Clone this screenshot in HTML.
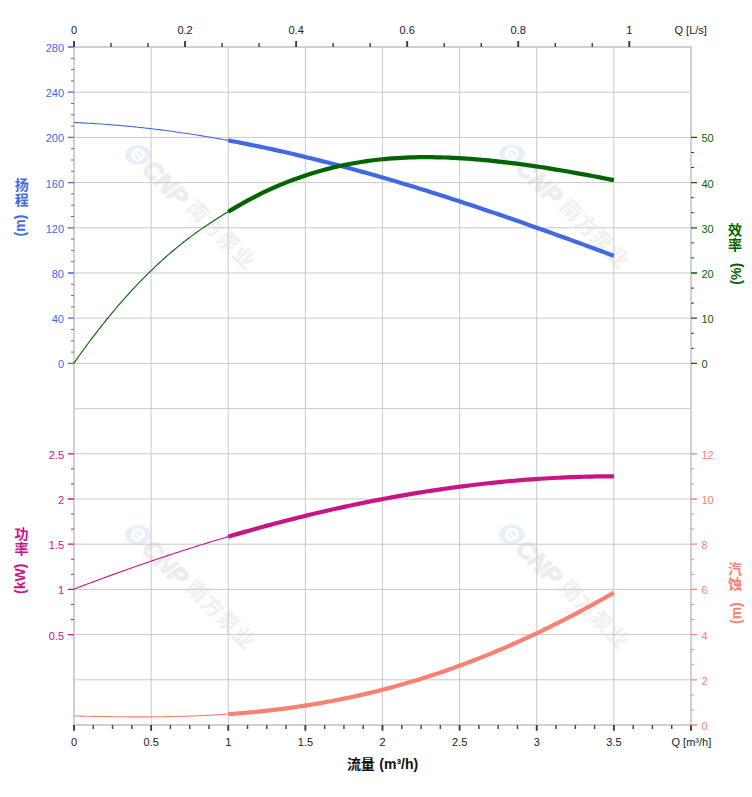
<!DOCTYPE html>
<html><head><meta charset="utf-8"><title>chart</title>
<style>html,body{margin:0;padding:0;background:#fff}body{width:752px;height:797px;overflow:hidden}</style></head>
<body>
<svg width="752" height="797" viewBox="0 0 752 797" style="display:block">
<rect width="752" height="797" fill="#fff"/>
<defs>
<g id="wmk"><ellipse cx="0" cy="0" rx="12.8" ry="9.8" fill="#e7eff8"/><g transform="rotate(45)" fill="none" stroke="#fff" stroke-width="2.9" stroke-linecap="round"><path d="M 4.6 -2.8 A 5.4 5.4 0 1 0 4.0 3.8"/><path d="M -1.5 0.3 H 4.8"/></g><g transform="rotate(45)"><text x="12.5" y="9" style="font-family:'Liberation Sans',sans-serif;font-weight:bold;font-style:italic;font-size:25px" fill="#ededed" stroke="#ededed" stroke-width="1.3" stroke-linejoin="round">CNP</text><text x="71.00 92.90 114.80 136.70" y="5.46" fill="#f0f0f0" style="font-family:'Liberation Sans','Noto Sans CJK SC',sans-serif;font-weight:bold;font-size:21.2px">南方泵业</text></g></g>
</defs>
<use href="#wmk" x="138.3" y="155.0"/>
<use href="#wmk" x="512.0" y="154.0"/>
<use href="#wmk" x="138.0" y="535.0"/>
<use href="#wmk" x="511.8" y="534.5"/>
<path d="M151.12 47.0V725.0M228.25 47.0V725.0M305.38 47.0V725.0M382.50 47.0V725.0M459.62 47.0V725.0M536.75 47.0V725.0M613.88 47.0V725.0M74.0 92.20H691.0M74.0 137.40H691.0M74.0 182.60H691.0M74.0 227.80H691.0M74.0 273.00H691.0M74.0 318.20H691.0M74.0 363.40H691.0M74.0 408.60H691.0M74.0 453.80H691.0M74.0 499.00H691.0M74.0 544.20H691.0M74.0 589.40H691.0M74.0 634.60H691.0M74.0 679.80H691.0" stroke="#c9c9c9" stroke-width="1" fill="none"/>
<rect x="74.0" y="47.0" width="617.0" height="678.0" fill="none" stroke="#d0d0d0" stroke-width="2"/>
<path d="M74.00 41V47.0M185.06 41V47.0M296.12 41V47.0M407.18 41V47.0M518.24 41V47.0M629.30 41V47.0" stroke="#3c3c3c" stroke-width="1.9" fill="none"/>
<path d="M111.02 43V47.0M148.04 43V47.0M222.08 43V47.0M259.10 43V47.0M333.14 43V47.0M370.16 43V47.0M444.20 43V47.0M481.22 43V47.0M555.26 43V47.0M592.28 43V47.0" stroke="#4a4a4a" stroke-width="1.5" fill="none"/>
<path d="M74.00 725.0V730.7M151.12 725.0V730.7M228.25 725.0V730.7M305.38 725.0V730.7M382.50 725.0V730.7M459.62 725.0V730.7M536.75 725.0V730.7M613.88 725.0V730.7M691.00 725.0V730.7" stroke="#3c3c3c" stroke-width="1.9" fill="none"/>
<path d="M93.28 725.0V728.9M112.56 725.0V728.9M131.84 725.0V728.9M170.41 725.0V728.9M189.69 725.0V728.9M208.97 725.0V728.9M247.53 725.0V728.9M266.81 725.0V728.9M286.09 725.0V728.9M324.66 725.0V728.9M343.94 725.0V728.9M363.22 725.0V728.9M401.78 725.0V728.9M421.06 725.0V728.9M440.34 725.0V728.9M478.91 725.0V728.9M498.19 725.0V728.9M517.47 725.0V728.9M556.03 725.0V728.9M575.31 725.0V728.9M594.59 725.0V728.9M633.16 725.0V728.9M652.44 725.0V728.9M671.72 725.0V728.9" stroke="#4a4a4a" stroke-width="1.5" fill="none"/>
<path d="M68 47.00H74.0M68 92.20H74.0M68 137.40H74.0M68 182.60H74.0M68 227.80H74.0M68 273.00H74.0M68 318.20H74.0M68 363.40H74.0" stroke="#4169e1" stroke-width="1.3" fill="none"/>
<path d="M71 58.30H74.0M71 69.60H74.0M71 80.90H74.0M71 103.50H74.0M71 114.80H74.0M71 126.10H74.0M71 148.70H74.0M71 160.00H74.0M71 171.30H74.0M71 193.90H74.0M71 205.20H74.0M71 216.50H74.0M71 239.10H74.0M71 250.40H74.0M71 261.70H74.0M71 284.30H74.0M71 295.60H74.0M71 306.90H74.0M71 329.50H74.0M71 340.80H74.0M71 352.10H74.0" stroke="#4169e1" stroke-width="1.0" fill="none"/>
<path d="M691.0 363.40H697M691.0 318.20H697M691.0 273.00H697M691.0 227.80H697M691.0 182.60H697M691.0 137.40H697" stroke="#006400" stroke-width="1.3" fill="none"/>
<path d="M691.0 348.33H694M691.0 333.27H694M691.0 303.13H694M691.0 288.07H694M691.0 257.93H694M691.0 242.87H694M691.0 212.73H694M691.0 197.67H694M691.0 167.53H694M691.0 152.47H694" stroke="#006400" stroke-width="1.0" fill="none"/>
<path d="M68 453.80H74.0M68 499.00H74.0M68 544.20H74.0M68 589.40H74.0M68 634.60H74.0" stroke="#c71585" stroke-width="1.3" fill="none"/>
<path d="M71 468.87H74.0M71 483.93H74.0M71 514.07H74.0M71 529.13H74.0M71 559.27H74.0M71 574.33H74.0M71 604.47H74.0M71 619.53H74.0" stroke="#c71585" stroke-width="1.0" fill="none"/>
<path d="M691.0 453.80H697M691.0 499.00H697M691.0 544.20H697M691.0 589.40H697M691.0 634.60H697M691.0 679.80H697M691.0 725.00H697" stroke="#fa8072" stroke-width="1.3" fill="none"/>
<path d="M691.0 468.87H694M691.0 483.93H694M691.0 514.07H694M691.0 529.13H694M691.0 559.27H694M691.0 574.33H694M691.0 604.47H694M691.0 619.53H694M691.0 649.67H694M691.0 664.73H694M691.0 694.87H694M691.0 709.93H694" stroke="#fa8072" stroke-width="1.0" fill="none"/>
<text x="74.00" y="34.30" fill="#1a1a1a" text-anchor="middle" style="font-family:'Liberation Sans',sans-serif;font-size:11px;font-weight:normal" >0</text>
<text x="185.06" y="34.30" fill="#1a1a1a" text-anchor="middle" style="font-family:'Liberation Sans',sans-serif;font-size:11px;font-weight:normal" >0.2</text>
<text x="296.12" y="34.30" fill="#1a1a1a" text-anchor="middle" style="font-family:'Liberation Sans',sans-serif;font-size:11px;font-weight:normal" >0.4</text>
<text x="407.18" y="34.30" fill="#1a1a1a" text-anchor="middle" style="font-family:'Liberation Sans',sans-serif;font-size:11px;font-weight:normal" >0.6</text>
<text x="518.24" y="34.30" fill="#1a1a1a" text-anchor="middle" style="font-family:'Liberation Sans',sans-serif;font-size:11px;font-weight:normal" >0.8</text>
<text x="629.30" y="34.30" fill="#1a1a1a" text-anchor="middle" style="font-family:'Liberation Sans',sans-serif;font-size:11px;font-weight:normal" >1</text>
<text x="674.50" y="34.30" fill="#1a1a1a" text-anchor="start" style="font-family:'Liberation Sans',sans-serif;font-size:11px;font-weight:normal" >Q [L/s]</text>
<text x="74.00" y="746.00" fill="#1a1a1a" text-anchor="middle" style="font-family:'Liberation Sans',sans-serif;font-size:11px;font-weight:normal" >0</text>
<text x="151.12" y="746.00" fill="#1a1a1a" text-anchor="middle" style="font-family:'Liberation Sans',sans-serif;font-size:11px;font-weight:normal" >0.5</text>
<text x="228.25" y="746.00" fill="#1a1a1a" text-anchor="middle" style="font-family:'Liberation Sans',sans-serif;font-size:11px;font-weight:normal" >1</text>
<text x="305.38" y="746.00" fill="#1a1a1a" text-anchor="middle" style="font-family:'Liberation Sans',sans-serif;font-size:11px;font-weight:normal" >1.5</text>
<text x="382.50" y="746.00" fill="#1a1a1a" text-anchor="middle" style="font-family:'Liberation Sans',sans-serif;font-size:11px;font-weight:normal" >2</text>
<text x="459.62" y="746.00" fill="#1a1a1a" text-anchor="middle" style="font-family:'Liberation Sans',sans-serif;font-size:11px;font-weight:normal" >2.5</text>
<text x="536.75" y="746.00" fill="#1a1a1a" text-anchor="middle" style="font-family:'Liberation Sans',sans-serif;font-size:11px;font-weight:normal" >3</text>
<text x="613.88" y="746.00" fill="#1a1a1a" text-anchor="middle" style="font-family:'Liberation Sans',sans-serif;font-size:11px;font-weight:normal" >3.5</text>
<text x="671.50" y="746.00" fill="#1a1a1a" text-anchor="start" style="font-family:'Liberation Sans',sans-serif;font-size:11px;font-weight:normal" >Q [m³/h]</text>
<text x="64.00" y="51.90" fill="#4169e1" text-anchor="end" style="font-family:'Liberation Sans',sans-serif;font-size:11px;font-weight:normal" >280</text>
<text x="64.00" y="97.10" fill="#4169e1" text-anchor="end" style="font-family:'Liberation Sans',sans-serif;font-size:11px;font-weight:normal" >240</text>
<text x="64.00" y="142.30" fill="#4169e1" text-anchor="end" style="font-family:'Liberation Sans',sans-serif;font-size:11px;font-weight:normal" >200</text>
<text x="64.00" y="187.50" fill="#4169e1" text-anchor="end" style="font-family:'Liberation Sans',sans-serif;font-size:11px;font-weight:normal" >160</text>
<text x="64.00" y="232.70" fill="#4169e1" text-anchor="end" style="font-family:'Liberation Sans',sans-serif;font-size:11px;font-weight:normal" >120</text>
<text x="64.00" y="277.90" fill="#4169e1" text-anchor="end" style="font-family:'Liberation Sans',sans-serif;font-size:11px;font-weight:normal" >80</text>
<text x="64.00" y="323.10" fill="#4169e1" text-anchor="end" style="font-family:'Liberation Sans',sans-serif;font-size:11px;font-weight:normal" >40</text>
<text x="64.00" y="368.30" fill="#4169e1" text-anchor="end" style="font-family:'Liberation Sans',sans-serif;font-size:11px;font-weight:normal" >0</text>
<text x="701.50" y="142.30" fill="#006400" text-anchor="start" style="font-family:'Liberation Sans',sans-serif;font-size:11px;font-weight:normal" >50</text>
<text x="701.50" y="187.50" fill="#006400" text-anchor="start" style="font-family:'Liberation Sans',sans-serif;font-size:11px;font-weight:normal" >40</text>
<text x="701.50" y="232.70" fill="#006400" text-anchor="start" style="font-family:'Liberation Sans',sans-serif;font-size:11px;font-weight:normal" >30</text>
<text x="701.50" y="277.90" fill="#006400" text-anchor="start" style="font-family:'Liberation Sans',sans-serif;font-size:11px;font-weight:normal" >20</text>
<text x="701.50" y="323.10" fill="#006400" text-anchor="start" style="font-family:'Liberation Sans',sans-serif;font-size:11px;font-weight:normal" >10</text>
<text x="701.50" y="368.30" fill="#006400" text-anchor="start" style="font-family:'Liberation Sans',sans-serif;font-size:11px;font-weight:normal" >0</text>
<text x="64.00" y="458.70" fill="#c71585" text-anchor="end" style="font-family:'Liberation Sans',sans-serif;font-size:11px;font-weight:normal" >2.5</text>
<text x="64.00" y="503.90" fill="#c71585" text-anchor="end" style="font-family:'Liberation Sans',sans-serif;font-size:11px;font-weight:normal" >2</text>
<text x="64.00" y="549.10" fill="#c71585" text-anchor="end" style="font-family:'Liberation Sans',sans-serif;font-size:11px;font-weight:normal" >1.5</text>
<text x="64.00" y="594.30" fill="#c71585" text-anchor="end" style="font-family:'Liberation Sans',sans-serif;font-size:11px;font-weight:normal" >1</text>
<text x="64.00" y="639.50" fill="#c71585" text-anchor="end" style="font-family:'Liberation Sans',sans-serif;font-size:11px;font-weight:normal" >0.5</text>
<text x="701.50" y="458.70" fill="#fa8072" text-anchor="start" style="font-family:'Liberation Sans',sans-serif;font-size:11px;font-weight:normal" >12</text>
<text x="701.50" y="503.90" fill="#fa8072" text-anchor="start" style="font-family:'Liberation Sans',sans-serif;font-size:11px;font-weight:normal" >10</text>
<text x="701.50" y="549.10" fill="#fa8072" text-anchor="start" style="font-family:'Liberation Sans',sans-serif;font-size:11px;font-weight:normal" >8</text>
<text x="701.50" y="594.30" fill="#fa8072" text-anchor="start" style="font-family:'Liberation Sans',sans-serif;font-size:11px;font-weight:normal" >6</text>
<text x="701.50" y="639.50" fill="#fa8072" text-anchor="start" style="font-family:'Liberation Sans',sans-serif;font-size:11px;font-weight:normal" >4</text>
<text x="701.50" y="684.70" fill="#fa8072" text-anchor="start" style="font-family:'Liberation Sans',sans-serif;font-size:11px;font-weight:normal" >2</text>
<text x="701.50" y="729.90" fill="#fa8072" text-anchor="start" style="font-family:'Liberation Sans',sans-serif;font-size:11px;font-weight:normal" >0</text>
<text x="14.65" y="189.88" fill="#4169e1" text-anchor="start" style="font-family:'Liberation Sans','Noto Sans CJK SC',sans-serif;font-size:14px;font-weight:bold">扬</text>
<text x="14.65" y="205.08" fill="#4169e1" text-anchor="start" style="font-family:'Liberation Sans','Noto Sans CJK SC',sans-serif;font-size:14px;font-weight:bold">程</text>
<text transform="translate(25.20,225.50) rotate(-90)" text-anchor="middle" fill="#4169e1" style="font-family:'Liberation Sans',sans-serif;font-size:14px;font-weight:bold">(m)</text>
<text x="14.45" y="539.48" fill="#c71585" text-anchor="start" style="font-family:'Liberation Sans','Noto Sans CJK SC',sans-serif;font-size:14px;font-weight:bold">功</text>
<text x="14.45" y="554.38" fill="#c71585" text-anchor="start" style="font-family:'Liberation Sans','Noto Sans CJK SC',sans-serif;font-size:14px;font-weight:bold">率</text>
<text transform="translate(24.50,578.80) rotate(-90)" text-anchor="middle" fill="#c71585" style="font-family:'Liberation Sans',sans-serif;font-size:14px;font-weight:bold">(kW)</text>
<text x="727.90" y="234.98" fill="#006400" text-anchor="start" style="font-family:'Liberation Sans','Noto Sans CJK SC',sans-serif;font-size:14px;font-weight:bold">效</text>
<text x="727.90" y="250.28" fill="#006400" text-anchor="start" style="font-family:'Liberation Sans','Noto Sans CJK SC',sans-serif;font-size:14px;font-weight:bold">率</text>
<text transform="translate(740.80,273.80) rotate(-90)" text-anchor="middle" fill="#006400" style="font-family:'Liberation Sans',sans-serif;font-size:14px;font-weight:bold">(%)</text>
<text x="727.90" y="574.08" fill="#fa8072" text-anchor="start" style="font-family:'Liberation Sans','Noto Sans CJK SC',sans-serif;font-size:14px;font-weight:bold">汽</text>
<text x="727.90" y="589.18" fill="#fa8072" text-anchor="start" style="font-family:'Liberation Sans','Noto Sans CJK SC',sans-serif;font-size:14px;font-weight:bold">蚀</text>
<text transform="translate(740.80,613.10) rotate(-90)" text-anchor="middle" fill="#fa8072" style="font-family:'Liberation Sans',sans-serif;font-size:14px;font-weight:bold">(m)</text>
<text x="347.05 360.85" y="768.73" fill="#111" text-anchor="start" style="font-family:'Liberation Sans','Noto Sans CJK SC',sans-serif;font-size:14px;font-weight:bold">流量</text>
<text x="379.30" y="769.00" fill="#111" text-anchor="start" style="font-family:'Liberation Sans',sans-serif;font-size:14px;font-weight:bold" >(m³/h)</text>
<path d="M74.00 715.94 L75.73 715.98 L77.47 716.02 L79.20 716.06 L80.93 716.10 L82.67 716.14 L84.40 716.18 L86.13 716.21 L87.87 716.25 L89.60 716.29 L91.33 716.32 L93.06 716.36 L94.80 716.39 L96.53 716.42 L98.26 716.45 L100.00 716.49 L101.73 716.52 L103.46 716.54 L105.20 716.57 L106.93 716.60 L108.66 716.63 L110.40 716.65 L112.13 716.67 L113.86 716.70 L115.60 716.72 L117.33 716.74 L119.06 716.76 L120.79 716.77 L122.53 716.79 L124.26 716.81 L125.99 716.82 L127.73 716.83 L129.46 716.84 L131.19 716.85 L132.93 716.86 L134.66 716.86 L136.39 716.87 L138.13 716.87 L139.86 716.87 L141.59 716.87 L143.33 716.87 L145.06 716.86 L146.79 716.86 L148.53 716.85 L150.26 716.84 L151.99 716.83 L153.72 716.82 L155.46 716.80 L157.19 716.79 L158.92 716.77 L160.66 716.75 L162.39 716.72 L164.12 716.70 L165.86 716.67 L167.59 716.64 L169.32 716.61 L171.06 716.58 L172.79 716.54 L174.52 716.50 L176.26 716.46 L177.99 716.42 L179.72 716.38 L181.46 716.33 L183.19 716.28 L184.92 716.23 L186.65 716.18 L188.39 716.12 L190.12 716.06 L191.85 716.00 L193.59 715.94 L195.32 715.87 L197.05 715.80 L198.79 715.73 L200.52 715.66 L202.25 715.58 L203.99 715.50 L205.72 715.42 L207.45 715.34 L209.19 715.25 L210.92 715.16 L212.65 715.07 L214.38 714.97 L216.12 714.87 L217.85 714.77 L219.58 714.67 L221.32 714.56 L223.05 714.45 L224.78 714.34 L226.52 714.23 L228.25 714.11" stroke="#fa8072" stroke-width="1.1" fill="none" stroke-linejoin="round"/>
<path d="M228.25 714.11 L232.58 713.80 L236.92 713.47 L241.25 713.13 L245.58 712.76 L249.91 712.38 L254.25 711.97 L258.58 711.55 L262.91 711.10 L267.25 710.63 L271.58 710.14 L275.91 709.63 L280.24 709.10 L284.58 708.55 L288.91 707.98 L293.24 707.38 L297.58 706.76 L301.91 706.11 L306.24 705.45 L310.57 704.76 L314.91 704.04 L319.24 703.31 L323.57 702.55 L327.91 701.76 L332.24 700.95 L336.57 700.12 L340.90 699.26 L345.24 698.38 L349.57 697.47 L353.90 696.54 L358.24 695.58 L362.57 694.59 L366.90 693.58 L371.23 692.55 L375.57 691.49 L379.90 690.40 L384.23 689.29 L388.57 688.15 L392.90 686.98 L397.23 685.79 L401.56 684.57 L405.90 683.33 L410.23 682.06 L414.56 680.76 L418.90 679.44 L423.23 678.09 L427.56 676.71 L431.89 675.30 L436.23 673.87 L440.56 672.42 L444.89 670.93 L449.23 669.42 L453.56 667.88 L457.89 666.32 L462.22 664.72 L466.56 663.10 L470.89 661.46 L475.22 659.79 L479.56 658.09 L483.89 656.36 L488.22 654.61 L492.55 652.83 L496.89 651.02 L501.22 649.19 L505.55 647.33 L509.89 645.45 L514.22 643.54 L518.55 641.60 L522.88 639.64 L527.22 637.65 L531.55 635.63 L535.88 633.59 L540.22 631.53 L544.55 629.44 L548.88 627.32 L553.21 625.18 L557.55 623.01 L561.88 620.82 L566.21 618.60 L570.55 616.36 L574.88 614.09 L579.21 611.80 L583.54 609.49 L587.88 607.15 L592.21 604.79 L596.54 602.41 L600.88 600.00 L605.21 597.57 L609.54 595.12 L613.88 592.64" stroke="#fa8072" stroke-width="4.2" fill="none" stroke-linejoin="round"/>
<path d="M74.00 589.07 L75.73 588.41 L77.47 587.75 L79.20 587.09 L80.93 586.43 L82.67 585.78 L84.40 585.12 L86.13 584.47 L87.87 583.82 L89.60 583.17 L91.33 582.52 L93.06 581.87 L94.80 581.23 L96.53 580.59 L98.26 579.94 L100.00 579.30 L101.73 578.67 L103.46 578.03 L105.20 577.39 L106.93 576.76 L108.66 576.13 L110.40 575.50 L112.13 574.87 L113.86 574.24 L115.60 573.62 L117.33 572.99 L119.06 572.37 L120.79 571.75 L122.53 571.13 L124.26 570.51 L125.99 569.90 L127.73 569.28 L129.46 568.67 L131.19 568.06 L132.93 567.45 L134.66 566.84 L136.39 566.24 L138.13 565.63 L139.86 565.03 L141.59 564.43 L143.33 563.83 L145.06 563.23 L146.79 562.64 L148.53 562.04 L150.26 561.45 L151.99 560.86 L153.72 560.27 L155.46 559.69 L157.19 559.10 L158.92 558.52 L160.66 557.94 L162.39 557.36 L164.12 556.78 L165.86 556.20 L167.59 555.63 L169.32 555.05 L171.06 554.48 L172.79 553.91 L174.52 553.34 L176.26 552.78 L177.99 552.21 L179.72 551.65 L181.46 551.09 L183.19 550.53 L184.92 549.97 L186.65 549.42 L188.39 548.87 L190.12 548.31 L191.85 547.76 L193.59 547.22 L195.32 546.67 L197.05 546.12 L198.79 545.58 L200.52 545.04 L202.25 544.50 L203.99 543.96 L205.72 543.43 L207.45 542.89 L209.19 542.36 L210.92 541.83 L212.65 541.30 L214.38 540.78 L216.12 540.25 L217.85 539.73 L219.58 539.21 L221.32 538.69 L223.05 538.17 L224.78 537.66 L226.52 537.15 L228.25 536.64" stroke="#c71585" stroke-width="1.1" fill="none" stroke-linejoin="round"/>
<path d="M228.25 536.64 L232.58 535.36 L236.92 534.11 L241.25 532.86 L245.58 531.63 L249.91 530.40 L254.25 529.19 L258.58 527.99 L262.91 526.81 L267.25 525.63 L271.58 524.47 L275.91 523.32 L280.24 522.18 L284.58 521.06 L288.91 519.95 L293.24 518.85 L297.58 517.76 L301.91 516.69 L306.24 515.62 L310.57 514.57 L314.91 513.54 L319.24 512.51 L323.57 511.50 L327.91 510.51 L332.24 509.52 L336.57 508.55 L340.90 507.59 L345.24 506.65 L349.57 505.72 L353.90 504.80 L358.24 503.89 L362.57 503.00 L366.90 502.13 L371.23 501.26 L375.57 500.41 L379.90 499.57 L384.23 498.75 L388.57 497.94 L392.90 497.15 L397.23 496.37 L401.56 495.60 L405.90 494.84 L410.23 494.11 L414.56 493.38 L418.90 492.67 L423.23 491.97 L427.56 491.29 L431.89 490.62 L436.23 489.97 L440.56 489.33 L444.89 488.71 L449.23 488.10 L453.56 487.50 L457.89 486.92 L462.22 486.36 L466.56 485.80 L470.89 485.27 L475.22 484.75 L479.56 484.24 L483.89 483.75 L488.22 483.28 L492.55 482.82 L496.89 482.37 L501.22 481.94 L505.55 481.53 L509.89 481.13 L514.22 480.74 L518.55 480.37 L522.88 480.02 L527.22 479.69 L531.55 479.36 L535.88 479.06 L540.22 478.77 L544.55 478.50 L548.88 478.24 L553.21 478.00 L557.55 477.77 L561.88 477.56 L566.21 477.37 L570.55 477.19 L574.88 477.03 L579.21 476.89 L583.54 476.76 L587.88 476.65 L592.21 476.55 L596.54 476.47 L600.88 476.41 L605.21 476.36 L609.54 476.34 L613.88 476.32" stroke="#c71585" stroke-width="4.2" fill="none" stroke-linejoin="round"/>
<path d="M74.00 122.53 L75.73 122.60 L77.47 122.67 L79.20 122.75 L80.93 122.83 L82.67 122.92 L84.40 123.01 L86.13 123.10 L87.87 123.19 L89.60 123.29 L91.33 123.39 L93.06 123.49 L94.80 123.60 L96.53 123.71 L98.26 123.82 L100.00 123.94 L101.73 124.06 L103.46 124.18 L105.20 124.30 L106.93 124.43 L108.66 124.56 L110.40 124.70 L112.13 124.83 L113.86 124.97 L115.60 125.12 L117.33 125.26 L119.06 125.41 L120.79 125.56 L122.53 125.72 L124.26 125.88 L125.99 126.04 L127.73 126.20 L129.46 126.37 L131.19 126.54 L132.93 126.71 L134.66 126.89 L136.39 127.06 L138.13 127.25 L139.86 127.43 L141.59 127.62 L143.33 127.81 L145.06 128.00 L146.79 128.19 L148.53 128.39 L150.26 128.59 L151.99 128.80 L153.72 129.01 L155.46 129.21 L157.19 129.43 L158.92 129.64 L160.66 129.86 L162.39 130.08 L164.12 130.30 L165.86 130.53 L167.59 130.76 L169.32 130.99 L171.06 131.23 L172.79 131.46 L174.52 131.70 L176.26 131.94 L177.99 132.19 L179.72 132.44 L181.46 132.69 L183.19 132.94 L184.92 133.20 L186.65 133.46 L188.39 133.72 L190.12 133.98 L191.85 134.25 L193.59 134.52 L195.32 134.79 L197.05 135.06 L198.79 135.34 L200.52 135.62 L202.25 135.90 L203.99 136.18 L205.72 136.47 L207.45 136.76 L209.19 137.05 L210.92 137.35 L212.65 137.64 L214.38 137.94 L216.12 138.24 L217.85 138.55 L219.58 138.86 L221.32 139.17 L223.05 139.48 L224.78 139.79 L226.52 140.11 L228.25 140.43" stroke="#4169e1" stroke-width="1.1" fill="none" stroke-linejoin="round"/>
<path d="M228.25 140.43 L232.58 141.24 L236.92 142.06 L241.25 142.90 L245.58 143.75 L249.91 144.62 L254.25 145.50 L258.58 146.40 L262.91 147.31 L267.25 148.23 L271.58 149.17 L275.91 150.13 L280.24 151.09 L284.58 152.07 L288.91 153.06 L293.24 154.07 L297.58 155.09 L301.91 156.12 L306.24 157.17 L310.57 158.23 L314.91 159.30 L319.24 160.38 L323.57 161.48 L327.91 162.58 L332.24 163.70 L336.57 164.84 L340.90 165.98 L345.24 167.13 L349.57 168.30 L353.90 169.48 L358.24 170.67 L362.57 171.87 L366.90 173.08 L371.23 174.30 L375.57 175.53 L379.90 176.78 L384.23 178.03 L388.57 179.30 L392.90 180.57 L397.23 181.85 L401.56 183.15 L405.90 184.45 L410.23 185.77 L414.56 187.09 L418.90 188.42 L423.23 189.76 L427.56 191.11 L431.89 192.47 L436.23 193.84 L440.56 195.22 L444.89 196.60 L449.23 198.00 L453.56 199.40 L457.89 200.81 L462.22 202.23 L466.56 203.65 L470.89 205.09 L475.22 206.53 L479.56 207.98 L483.89 209.43 L488.22 210.90 L492.55 212.37 L496.89 213.84 L501.22 215.33 L505.55 216.82 L509.89 218.32 L514.22 219.82 L518.55 221.33 L522.88 222.85 L527.22 224.37 L531.55 225.90 L535.88 227.43 L540.22 228.97 L544.55 230.51 L548.88 232.06 L553.21 233.62 L557.55 235.18 L561.88 236.74 L566.21 238.31 L570.55 239.88 L574.88 241.46 L579.21 243.05 L583.54 244.63 L587.88 246.22 L592.21 247.82 L596.54 249.42 L600.88 251.02 L605.21 252.63 L609.54 254.24 L613.88 255.85" stroke="#4169e1" stroke-width="4.2" fill="none" stroke-linejoin="round"/>
<path d="M74.00 363.08 L75.73 360.60 L77.47 358.15 L79.20 355.71 L80.93 353.28 L82.67 350.88 L84.40 348.50 L86.13 346.13 L87.87 343.79 L89.60 341.46 L91.33 339.15 L93.06 336.86 L94.80 334.59 L96.53 332.33 L98.26 330.10 L100.00 327.88 L101.73 325.68 L103.46 323.50 L105.20 321.34 L106.93 319.19 L108.66 317.07 L110.40 314.96 L112.13 312.87 L113.86 310.80 L115.60 308.74 L117.33 306.71 L119.06 304.69 L120.79 302.69 L122.53 300.71 L124.26 298.75 L125.99 296.81 L127.73 294.88 L129.46 292.97 L131.19 291.08 L132.93 289.20 L134.66 287.35 L136.39 285.51 L138.13 283.69 L139.86 281.89 L141.59 280.11 L143.33 278.34 L145.06 276.59 L146.79 274.86 L148.53 273.15 L150.26 271.45 L151.99 269.77 L153.72 268.11 L155.46 266.47 L157.19 264.84 L158.92 263.24 L160.66 261.64 L162.39 260.07 L164.12 258.51 L165.86 256.97 L167.59 255.45 L169.32 253.94 L171.06 252.46 L172.79 250.98 L174.52 249.53 L176.26 248.09 L177.99 246.66 L179.72 245.26 L181.46 243.87 L183.19 242.49 L184.92 241.13 L186.65 239.79 L188.39 238.46 L190.12 237.15 L191.85 235.86 L193.59 234.58 L195.32 233.31 L197.05 232.06 L198.79 230.83 L200.52 229.61 L202.25 228.40 L203.99 227.20 L205.72 226.02 L207.45 224.85 L209.19 223.70 L210.92 222.55 L212.65 221.42 L214.38 220.30 L216.12 219.18 L217.85 218.08 L219.58 216.99 L221.32 215.91 L223.05 214.84 L224.78 213.78 L226.52 212.73 L228.25 211.68" stroke="#006400" stroke-width="1.1" fill="none" stroke-linejoin="round"/>
<path d="M228.25 211.68 L232.58 209.10 L236.92 206.58 L241.25 204.11 L245.58 201.70 L249.91 199.36 L254.25 197.08 L258.58 194.86 L262.91 192.72 L267.25 190.65 L271.58 188.65 L275.91 186.73 L280.24 184.88 L284.58 183.10 L288.91 181.38 L293.24 179.74 L297.58 178.17 L301.91 176.65 L306.24 175.21 L310.57 173.82 L314.91 172.49 L319.24 171.23 L323.57 170.03 L327.91 168.88 L332.24 167.80 L336.57 166.77 L340.90 165.80 L345.24 164.88 L349.57 164.02 L353.90 163.22 L358.24 162.47 L362.57 161.77 L366.90 161.13 L371.23 160.54 L375.57 160.00 L379.90 159.51 L384.23 159.07 L388.57 158.68 L392.90 158.34 L397.23 158.04 L401.56 157.79 L405.90 157.59 L410.23 157.42 L414.56 157.30 L418.90 157.22 L423.23 157.18 L427.56 157.18 L431.89 157.21 L436.23 157.28 L440.56 157.38 L444.89 157.52 L449.23 157.69 L453.56 157.88 L457.89 158.11 L462.22 158.37 L466.56 158.65 L470.89 158.96 L475.22 159.29 L479.56 159.65 L483.89 160.04 L488.22 160.45 L492.55 160.88 L496.89 161.34 L501.22 161.82 L505.55 162.32 L509.89 162.84 L514.22 163.38 L518.55 163.94 L522.88 164.52 L527.22 165.13 L531.55 165.74 L535.88 166.38 L540.22 167.03 L544.55 167.70 L548.88 168.39 L553.21 169.09 L557.55 169.81 L561.88 170.54 L566.21 171.28 L570.55 172.04 L574.88 172.81 L579.21 173.59 L583.54 174.38 L587.88 175.18 L592.21 175.99 L596.54 176.81 L600.88 177.64 L605.21 178.48 L609.54 179.33 L613.88 180.18" stroke="#006400" stroke-width="4.2" fill="none" stroke-linejoin="round"/>
</svg>
</body></html>
